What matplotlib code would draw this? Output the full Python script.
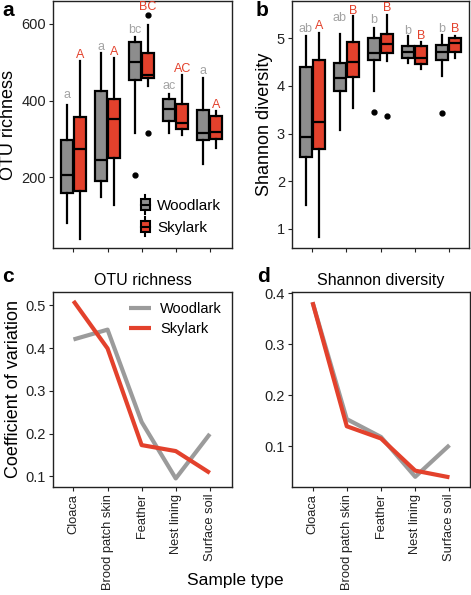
import matplotlib
matplotlib.use("Agg")
import matplotlib.pyplot as plt
from matplotlib.patches import Rectangle, Patch
from matplotlib.lines import Line2D
from matplotlib.legend_handler import HandlerBase

plt.rcParams['font.family'] = ['Liberation Sans', 'DejaVu Sans']

# ---------------- data ----------------
categories = ["Cloaca", "Brood patch skin", "Feather", "Nest lining", "Surface soil"]
series = ["Woodlark", "Skylark"]

# OTU richness boxplot stats: [whislo, q1, median, q3, whishi]
otu_woodlark = [[80, 159, 206, 298, 388],
                [148, 191, 245, 425, 523],
                [315, 453, 500, 554, 567],
                [314, 347, 379, 403, 418],
                [235, 296, 316, 376, 459]]
otu_skylark = [[39, 165, 273, 357, 503],
               [128, 249, 352, 404, 510],
               [438, 460, 468, 523, 597],
               [309, 325, 341, 390, 466],
               [277, 300, 318, 359, 373]]
otu_woodlark_fliers = [[], [], [205], [], []]
otu_skylark_fliers = [[], [], [624, 314], [], []]
otu_woodlark_letters = ["a", "a", "bc", "ac", "a"]
otu_skylark_letters = ["A", "A", "BC", "AC", "A"]
otu_woodlark_letter_y = [414, 541, 584, 438, 477]
otu_skylark_letter_y = [519, 527, 644, 482, 389]

# Shannon diversity boxplot stats
sh_woodlark = [[1.51, 2.50, 2.93, 4.39, 5.04],
               [3.07, 3.90, 4.17, 4.47, 5.08],
               [3.89, 4.54, 4.69, 5.01, 5.22],
               [4.48, 4.58, 4.70, 4.83, 5.04],
               [4.21, 4.54, 4.70, 4.86, 5.07]]
sh_skylark = [[0.84, 2.67, 3.25, 4.54, 5.11],
              [3.54, 4.19, 4.51, 4.91, 5.47],
              [4.53, 4.68, 4.87, 5.08, 5.49],
              [4.35, 4.46, 4.58, 4.83, 4.91],
              [4.58, 4.70, 4.89, 5.01, 5.04]]
sh_woodlark_fliers = [[], [], [3.46], [], [3.44]]
sh_skylark_fliers = [[], [], [3.37], [], []]
sh_woodlark_letters = ["ab", "ab", "b", "b", "b"]
sh_skylark_letters = ["A", "B", "B", "B", "B"]
sh_woodlark_letter_y = [5.19, 5.43, 5.38, 5.15, 5.19]
sh_skylark_letter_y = [5.26, 5.58, 5.63, 5.05, 5.19]

# Coefficient of variation
cv_otu_woodlark = [0.420, 0.443, 0.227, 0.095, 0.199]
cv_otu_skylark = [0.510, 0.399, 0.173, 0.159, 0.108]
cv_sh_woodlark = [0.382, 0.153, 0.118, 0.040, 0.102]
cv_sh_skylark = [0.382, 0.139, 0.115, 0.052, 0.039]

# ---------------- style ----------------
GRAY_FILL = "#8d8d8d"
RED_FILL = "#e3412c"
GRAY_TXT = "#a3a3a3"
RED_TXT = "#e3412c"
GRAY_LINE = "#9b9b9b"
RED_LINE = "#e3412c"

W, H = 471, 595
fig = plt.figure(figsize=(W / 100, H / 100), dpi=100)


def fax(l, t, r, b):
    return fig.add_axes([l / W, 1 - b / H, (r - l) / W, (b - t) / H])


ax_a = fax(53, 1, 232, 248)
ax_b = fax(292, 1, 469, 248)
ax_c = fax(53, 292, 232, 487)
ax_d = fax(292, 292, 470, 487)


def style_axes(ax):
    for s in ax.spines.values():
        s.set_linewidth(1.0)
        s.set_color("#222222")
    ax.tick_params(axis='both', direction='out', length=3, width=0.8,
                   labelsize=10.5, color="#222222", labelcolor="#222222", pad=2)


def make_stats(arr, fliers):
    out = []
    for (lo, q1, med, q3, hi), fl in zip(arr, fliers):
        out.append(dict(whislo=lo, q1=q1, med=med, q3=q3, whishi=hi, fliers=fl))
    return out


def draw_boxes(ax, wood, sky, wfl, sfl, wlet, slet, wly, sly):
    pos = list(range(1, len(categories) + 1))
    off, bw = 0.19, 0.36
    for data, fl, color, sign in [(wood, wfl, GRAY_FILL, -1), (sky, sfl, RED_FILL, 1)]:
        ax.bxp(make_stats(data, fl), positions=[p + sign * off for p in pos],
               widths=bw, patch_artist=True, showcaps=False,
               boxprops=dict(facecolor=color, edgecolor="black", linewidth=1.6),
               medianprops=dict(color="black", linewidth=1.6),
               whiskerprops=dict(color="black", linewidth=1.6),
               flierprops=dict(marker='o', markerfacecolor='black', markeredgecolor='black',
                               markersize=3.5, linestyle='none'),
               manage_ticks=False)
    for i, p in enumerate(pos):
        ax.text(p - off, wly[i], wlet[i], color=GRAY_TXT, fontsize=9,
                ha='center', va='center')
        ax.text(p + off, sly[i], slet[i], color=RED_TXT, fontsize=9,
                ha='center', va='center')
    ax.set_xticks(pos)
    ax.set_xticklabels([])
    ax.set_xlim(0.4, 5.65)


class BoxHandler(HandlerBase):
    def create_artists(self, legend, orig_handle, xdescent, ydescent,
                       width, height, fontsize, trans):
        fc = orig_handle.get_facecolor()
        cx = -xdescent + width / 2
        bw = width * 0.8
        y0 = -ydescent
        rect = Rectangle((cx - bw / 2, y0 + height * 0.15), bw, height * 0.7,
                         facecolor=fc, edgecolor='black', linewidth=1.5, transform=trans)
        l1 = Line2D([cx, cx], [y0 - height * 0.08, y0 + height * 0.15], color='black', lw=1.5, transform=trans)
        l2 = Line2D([cx, cx], [y0 + height * 0.85, y0 + height * 1.08], color='black', lw=1.5, transform=trans)
        l3 = Line2D([cx - bw / 2, cx + bw / 2], [y0 + height * 0.5] * 2, color='black', lw=1.5, transform=trans)
        return [rect, l1, l2, l3]


# ---- panel a ----
style_axes(ax_a)
draw_boxes(ax_a, otu_woodlark, otu_skylark, otu_woodlark_fliers, otu_skylark_fliers,
           otu_woodlark_letters, otu_skylark_letters, otu_woodlark_letter_y, otu_skylark_letter_y)
ax_a.set_ylim(15, 660)
ax_a.set_yticks([200, 400, 600])
ax_a.set_ylabel("OTU richness", fontsize=13, labelpad=3)
handles = [Patch(facecolor=GRAY_FILL), Patch(facecolor=RED_FILL)]
ax_a.legend(handles, series, handler_map={Patch: BoxHandler()}, loc='lower right',
            bbox_to_anchor=(1.0, 0.01), frameon=False, fontsize=11,
            handlelength=0.75, handleheight=1.3, handletextpad=0.4, labelspacing=0.35,
            borderaxespad=0.3)

# ---- panel b ----
style_axes(ax_b)
draw_boxes(ax_b, sh_woodlark, sh_skylark, sh_woodlark_fliers, sh_skylark_fliers,
           sh_woodlark_letters, sh_skylark_letters, sh_woodlark_letter_y, sh_skylark_letter_y)
ax_b.set_xlim(0.4, 5.6)
ax_b.set_ylim(0.6, 5.78)
ax_b.set_yticks([1, 2, 3, 4, 5])
ax_b.set_ylabel("Shannon diversity", fontsize=13, labelpad=3)

# ---- panels c, d ----
xpos = list(range(1, len(categories) + 1))
for ax, wood, sky, title in [(ax_c, cv_otu_woodlark, cv_otu_skylark, "OTU richness"),
                             (ax_d, cv_sh_woodlark, cv_sh_skylark, "Shannon diversity")]:
    style_axes(ax)
    ax.plot(xpos, wood, color=GRAY_LINE, lw=3.0, label=series[0], solid_capstyle='butt')
    ax.plot(xpos, sky, color=RED_LINE, lw=3.0, label=series[1], solid_capstyle='butt')
    ax.set_xticks(xpos)
    ax.set_xticklabels(categories, rotation=90, fontsize=9.3)
    ax.set_title(title, fontsize=11.5, pad=5)

ax_c.set_xlim(0.4, 5.65)
ax_c.set_ylim(0.075, 0.531)
ax_c.set_yticks([0.1, 0.2, 0.3, 0.4, 0.5])
ax_c.set_ylabel("Coefficient of variation", fontsize=13, labelpad=3)
ax_c.legend(loc='upper right', frameon=False, fontsize=10.5, handlelength=1.5,
            handletextpad=0.6, labelspacing=0.4, borderaxespad=0.3)

ax_d.set_xlim(0.4, 5.6)
ax_d.set_ylim(0.020, 0.402)
ax_d.set_yticks([0.1, 0.2, 0.3, 0.4])

fig.text(235 / W, 1 - 580 / H, "Sample type", fontsize=12.5, ha='center', va='center')

for lbl, x, y in [("a", 8, 10), ("b", 262, 10), ("c", 8, 277), ("d", 263, 277)]:
    fig.text(x / W, 1 - y / H, lbl, fontsize=15, fontweight='bold', ha='center', va='center')

fig.savefig("out.png", dpi=100)
